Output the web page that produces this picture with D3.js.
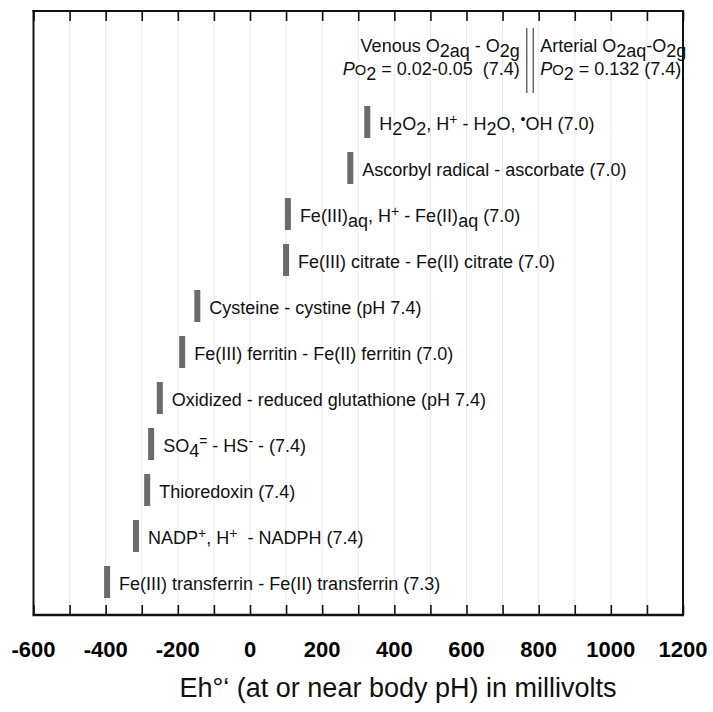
<!DOCTYPE html>
<html><head><meta charset="utf-8">
<script src="https://cdn.jsdelivr.net/npm/d3@7"></script>
<style>
html,body{margin:0;padding:0;background:#fff;}
svg text{font-family:"Liberation Sans",Arial,Helvetica,sans-serif;white-space:pre;}
</style></head>
<body>
<svg id="chart" width="713" height="712"></svg>
<script>
// ---- data ----
const labels = [
  "H_{2}O_{2}, H^{+} - H_{2}O, ^{•}OH (7.0)",
  "Ascorbyl radical - ascorbate (7.0)",
  "Fe(III)_{aq}, H^{+} - Fe(II)_{aq} (7.0)",
  "Fe(III) citrate - Fe(II) citrate (7.0)",
  "Cysteine - cystine (pH 7.4)",
  "Fe(III) ferritin - Fe(II) ferritin (7.0)",
  "Oxidized - reduced glutathione (pH 7.4)",
  "SO_{4}^{=} - HS^{-} - (7.4)",
  "Thioredoxin (7.4)",
  "NADP^{+}, H^{+}  - NADPH (7.4)",
  "Fe(III) transferrin - Fe(II) transferrin (7.3)"
];
const potentials = [325, 278, 105, 100, -146, -188, -250, -274, -285, -316, -396];

const o2Names = ["venous", "arterial"];
const o2Potentials = [767, 785];
const venousLabel = ["Venous O_{2aq} - O_{2g}", "*{P}~{O}_{2} = 0.02-0.05  (7.4)"];
const arterialLabel = ["Arterial O_{2aq}-O_{2g}", "*{P}~{O}_{2} = 0.132 (7.4)"];

const xDomain = [-600, 1200];
const majorTicks = [-600, -400, -200, 0, 200, 400, 600, 800, 1000, 1200];
const minorTicks = d3.range(-600, 1201, 100);
const xTitle = "Eh°‘ (at or near body pH) in millivolts";

// ---- layout ----
const svg = d3.select("#chart");
const L = 33.5, R = 683, T = 11, B = 615;
const x = d3.scaleLinear().domain(xDomain).range([L, R]);
const y = d3.scalePoint().domain(labels).range([122, 582]);
const barW = 6, barH = 32;

// gridlines
svg.append("g").selectAll("line")
  .data(minorTicks.filter(d => d > xDomain[0] && d < xDomain[1]))
  .join("line")
  .attr("x1", d => x(d)).attr("x2", d => x(d))
  .attr("y1", T).attr("y2", B)
  .attr("stroke", "#ebebeb").attr("stroke-width", 1);

// axes ticks (bottom: inward, top: inward)
const bottomAxis = d3.axisBottom(x).tickValues(minorTicks).tickSize(-10).tickFormat("");
const gB = svg.append("g").attr("transform", `translate(0,${B})`).call(bottomAxis);
gB.select(".domain").remove();
gB.selectAll(".tick line").attr("stroke", "#111").attr("stroke-width", 1.6);

const topAxis = d3.axisTop(x).tickValues(minorTicks).tickSize(-10).tickFormat("");
const gT = svg.append("g").attr("transform", `translate(0,${T})`).call(topAxis);
gT.select(".domain").remove();
gT.selectAll(".tick line").attr("stroke", "#111").attr("stroke-width", 1.6);

// frame
svg.append("line").attr("x1", L).attr("x2", L).attr("y1", T - 1).attr("y2", B).attr("stroke", "#111").attr("stroke-width", 2);
svg.append("line").attr("x1", R).attr("x2", R).attr("y1", T - 1).attr("y2", B).attr("stroke", "#111").attr("stroke-width", 2);
svg.append("line").attr("x1", L - 1).attr("x2", R + 1).attr("y1", T).attr("y2", T).attr("stroke", "#111").attr("stroke-width", 2);
svg.append("line").attr("x1", L - 1).attr("x2", R + 1).attr("y1", B).attr("y2", B).attr("stroke", "#111").attr("stroke-width", 2.6);

// tick labels
svg.append("g").selectAll("text").data(majorTicks).join("text")
  .attr("x", d => x(d)).attr("y", 657)
  .attr("text-anchor", "middle")
  .attr("font-size", 22).attr("font-weight", "bold").attr("fill", "#000")
  .text(d => d);

// axis title
svg.append("text").attr("x", 398).attr("y", 697)
  .attr("text-anchor", "middle").attr("font-size", 27).attr("fill", "#111")
  .text(xTitle);

// rich text helper
function rich(sel, str, size) {
  const parts = str.split(/(_\{[^}]*\}|\^\{[^}]*\}|\*\{[^}]*\}|~\{[^}]*\})/).filter(s => s.length);
  let off = 0;
  parts.forEach(p => {
    let kind = "", txt = p;
    if (/^[_^*~]\{/.test(p)) { kind = p[0]; txt = p.slice(2, -1); }
    let target = 0, fs = size, style = null;
    if (kind === "_") target = size * 0.3;
    if (kind === "^") { target = -size * 0.33; fs = size * 0.78; }
    if (kind === "*") style = "italic";
    if (kind === "~") fs = size * 0.82;
    const t = sel.append("tspan").attr("dy", target - off).attr("font-size", fs).text(txt);
    if (style) t.attr("font-style", style);
    off = target;
  });
}

// bars
svg.append("g").selectAll("rect").data(labels).join("rect")
  .attr("x", (d, i) => x(potentials[i]) - barW / 2)
  .attr("y", d => y(d) - barH / 2)
  .attr("width", barW).attr("height", barH)
  .attr("fill", "#6b6b6b");

// bar labels
svg.append("g").selectAll("text").data(labels).join("text")
  .attr("x", (d, i) => x(potentials[i]) + 12)
  .attr("y", d => y(d) + 7.5)
  .attr("font-size", 18).attr("fill", "#111")
  .each(function (d) { rich(d3.select(this), d, 18); });

// O2 lines
svg.append("g").selectAll("line").data(o2Names).join("line")
  .attr("x1", (d, i) => x(o2Potentials[i])).attr("x2", (d, i) => x(o2Potentials[i]))
  .attr("y1", 28).attr("y2", 93)
  .attr("stroke", "#555").attr("stroke-width", 1.3);

venousLabel.forEach((s, k) => {
  const t = svg.append("text").attr("x", x(o2Potentials[0]) - 7).attr("y", 52 + k * 23)
    .attr("text-anchor", "end").attr("font-size", 18).attr("fill", "#111");
  rich(t, s, 18);
});
arterialLabel.forEach((s, k) => {
  const t = svg.append("text").attr("x", x(o2Potentials[1]) + 7).attr("y", 52 + k * 23)
    .attr("text-anchor", "start").attr("font-size", 18).attr("fill", "#111");
  rich(t, s, 18);
});
</script>
</body></html>
